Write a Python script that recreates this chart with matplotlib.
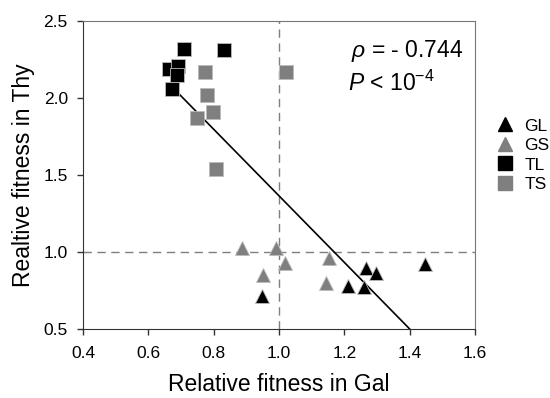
import matplotlib

matplotlib.use("Agg")
import matplotlib.pyplot as plt
from matplotlib.lines import Line2D

plt.rcParams["font.family"] = ["Liberation Sans", "DejaVu Sans"]
plt.rcParams["mathtext.fontset"] = "custom"
plt.rcParams["mathtext.rm"] = "Liberation Sans"
plt.rcParams["mathtext.it"] = "Liberation Sans:italic"

# relative fitness (Gal, Thy) per group
gl_gal = [0.947, 1.21, 1.26, 1.265, 1.296, 1.446]
gl_thy = [0.713, 0.778, 0.774, 0.899, 0.867, 0.921]
gs_gal = [0.886, 0.990, 1.018, 0.951, 1.154, 1.143]
gs_thy = [1.026, 1.026, 0.932, 0.852, 0.965, 0.798]
tl_gal = [0.710, 0.832, 0.664, 0.692, 0.686, 0.673]
tl_thy = [2.32, 2.31, 2.19, 2.21, 2.15, 2.06]
ts_gal = [0.774, 1.02, 0.780, 0.798, 0.749, 0.808]
ts_thy = [2.17, 2.17, 2.02, 1.91, 1.87, 1.54]

fit_x = [0.69, 1.40]
fit_y = [2.035, 0.5]

BLACK = "#000000"
GRAY = "#7f7f7f"

fig = plt.figure(figsize=(5.5, 3.98), dpi=100)
ax = fig.add_axes([0.151, 0.173, 0.713, 0.774])

ax.axvline(1.0, color=GRAY, lw=1.0, dashes=(6, 4), zorder=1)
ax.axhline(1.0, color=GRAY, lw=1.0, dashes=(6, 4), zorder=1)
ax.plot(fit_x, fit_y, color="black", lw=1.2, zorder=2)

style = dict(linestyle="none", markersize=9.5, markeredgecolor="#bbbbbb",
             markeredgewidth=0.6, zorder=3)
ax.plot(gl_gal, gl_thy, marker="^", color=BLACK, label="GL", **style)
ax.plot(gs_gal, gs_thy, marker="^", color=GRAY, label="GS", **style)
ax.plot(tl_gal, tl_thy, marker="s", color=BLACK, label="TL", **style)
ax.plot(ts_gal, ts_thy, marker="s", color=GRAY, label="TS", **style)

ax.set_xlim(0.4, 1.6)
ax.set_ylim(0.5, 2.5)
ax.set_xticks([0.4, 0.6, 0.8, 1.0, 1.2, 1.4, 1.6])
ax.set_yticks([0.5, 1.0, 1.5, 2.0, 2.5])
ax.set_xticklabels(["0.4", "0.6", "0.8", "1.0", "1.2", "1.4", "1.6"])
ax.set_yticklabels(["0.5", "1.0", "1.5", "2.0", "2.5"])
ax.tick_params(direction="out", length=4, width=1, labelsize=12.5,
               color="#333333")
ax.tick_params(axis="x", pad=8)
ax.tick_params(axis="y", pad=7)
for side in ["left", "bottom"]:
    ax.spines[side].set_color("#333333")
for side in ["top", "right"]:
    ax.spines[side].set_color("#777777")

ax.set_xlabel("Relative fitness in Gal", fontsize=16.5, labelpad=9)
ax.set_ylabel("Realtive fitness in Thy", fontsize=16.5, labelpad=6)

ax.text(0.97, 0.885, r"$\rho$ = - 0.744", transform=ax.transAxes,
        ha="right", va="baseline", fontsize=16.5)
ax.text(0.675, 0.775, r"$P$ < 10$^{\mathrm{-4}}$", transform=ax.transAxes,
        ha="left", va="baseline", fontsize=16.5)

handles = [
    Line2D([], [], marker="^", color=BLACK, linestyle="none", markersize=10),
    Line2D([], [], marker="^", color=GRAY, linestyle="none", markersize=10),
    Line2D([], [], marker="s", color=BLACK, linestyle="none", markersize=9.5),
    Line2D([], [], marker="s", color=GRAY, linestyle="none", markersize=9.5),
]
fig.legend(handles, ["GL", "GS", "TL", "TS"], loc="upper left",
           bbox_to_anchor=(0.89, 0.72), frameon=False, fontsize=12.5,
           handlelength=1.0, handletextpad=0.6, labelspacing=0.25,
           borderaxespad=0)

fig.savefig("out.png", dpi=100)
